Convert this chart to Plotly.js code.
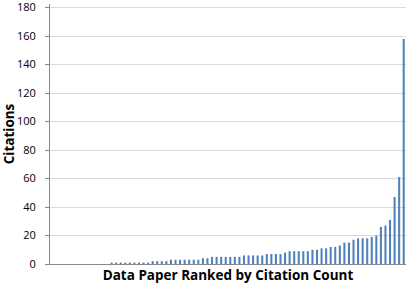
<!DOCTYPE html>
<html>
<head>
<meta charset="utf-8">
<script src="https://cdn.plot.ly/plotly-3.0.1.min.js"></script>
<style>html,body{margin:0;padding:0;background:#fff;}#chart{width:407px;height:285px;}</style>
</head>
<body>
<div id="chart"></div>
<script>
// Citation counts of data papers, sorted ascending (rank order)
const citations = [
  0,0,0,0,0,0,0,0,0,0,0,0,0,
  1,1,1,1,1,1,1,1,1,
  2,2,2,2,
  3,3,3,3,3,3,3,
  4,4,
  5,5,5,5,5,5,5,
  6,6,6,6,6,
  7,7,7,7,
  8,
  9,9,9,9,9,
  10,10,
  11,11,
  12,12,
  13,
  15,15,
  17,
  18,18,18,
  19,
  20,
  26,27,31,47,61,158
];
const ranks = citations.map((_, i) => i + 1);
const yTicks = [0,20,40,60,80,100,120,140,160,180];
const yMax = 180;

const trace = {
  type: 'bar',
  x: ranks,
  y: citations,
  marker: {color: '#4F81BD', line: {width: 0}},
  hoverinfo: 'none'
};

const layout = {
  width: 407, height: 285,
  margin: {l: 50, r: 1, t: 4, b: 21},
  paper_bgcolor: '#fff', plot_bgcolor: '#fff',
  bargap: 0.55,
  showlegend: false,
  font: {family: 'Open Sans, Liberation Sans, sans-serif', size: 11, color: '#000'},
  xaxis: {
    range: [0.5, ranks.length + 0.5],
    showticklabels: false, ticks: '',
    showgrid: false, zeroline: false,
    showline: true, linecolor: '#888', linewidth: 1,
    title: {text: 'Data Paper Ranked by Citation Count', font: {size: 13.5, color: '#000', family: 'Open Sans, Liberation Sans, sans-serif', weight: 'bold'}, standoff: 6},
    automargin: false, fixedrange: true
  },
  yaxis: {
    range: [0, 182.5],
    tickvals: yTicks, ticktext: yTicks.map(String),
    ticks: 'outside', ticklen: 4, tickcolor: '#888', tickwidth: 1,
    ticklabelstandoff: 7,
    ticklabeloverflow: 'allow',
    tickfont: {size: 11, color: '#000'},
    showgrid: true, gridcolor: '#D9D9D9', gridwidth: 1,
    zeroline: false,
    showline: true, linecolor: '#888', linewidth: 1,
    title: {text: 'Citations', font: {size: 13.5, color: '#000', weight: 'bold'}, standoff: 6},
    automargin: false, fixedrange: true
  },
  shapes: [{
    type: 'line', xref: 'paper', yref: 'y', x0: 0, x1: 1, y0: yMax, y1: yMax,
    line: {color: '#D9D9D9', width: 1}, layer: 'below'
  }]
};

Plotly.newPlot('chart', [trace], layout, {staticPlot: true, displayModeBar: false});
</script>
</body>
</html>
